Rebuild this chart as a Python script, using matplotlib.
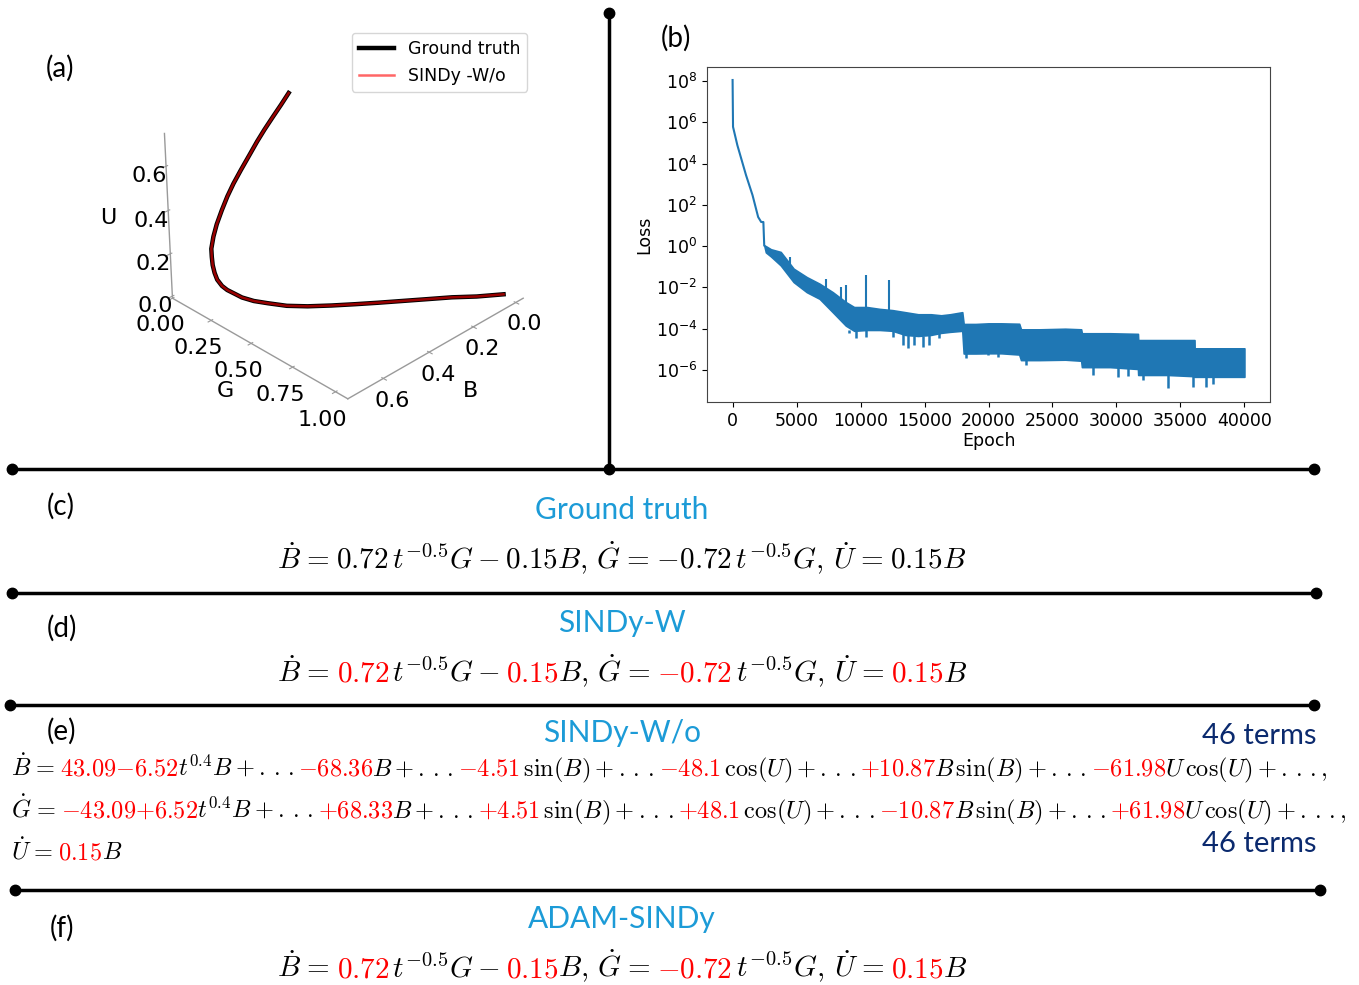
import matplotlib
matplotlib.use("Agg")
import matplotlib.pyplot as plt

plt.rcParams['mathtext.fontset'] = 'cm'

# ---------------- data ----------------
# 3D trajectory
traj_B = [0.00, 0.07, 0.13, 0.20, 0.26, 0.32, 0.38, 0.44, 0.50, 0.55, 0.59, 0.622, 0.645, 0.657, 0.671, 0.678, 0.681,
          0.678, 0.672, 0.663, 0.653, 0.631, 0.606, 0.574, 0.541, 0.508, 0.47, 0.43, 0.39, 0.355, 0.315, 0.276,
          0.24]
traj_G = [1.00, 0.93, 0.86, 0.79, 0.73, 0.67, 0.61, 0.55, 0.487, 0.43, 0.37, 0.33, 0.29, 0.265, 0.237, 0.215, 0.19,
          0.17, 0.15, 0.132, 0.115, 0.097, 0.082, 0.068, 0.056, 0.047, 0.040, 0.033, 0.027, 0.023, 0.019, 0.016,
          0.013]
traj_U = [0.000, 0.000, 0.001, 0.002, 0.003, 0.004, 0.006, 0.009, 0.013, 0.020, 0.030, 0.042, 0.055, 0.068, 0.083,
          0.097, 0.118, 0.14, 0.165, 0.191, 0.217, 0.255, 0.293, 0.336, 0.379, 0.418, 0.46, 0.502, 0.546, 0.582,
          0.62, 0.657, 0.693]

# Loss history (log10 of loss): smooth early part
loss_epoch_early = [0, 34, 373, 1050, 1558, 1998, 2235, 2405, 2472]
loss_log_early = [8.05, 5.78, 4.89, 3.44, 2.47, 1.41, 1.17, 1.17, 0.04]
# noisy band: upper and lower log10 envelope
band_epoch = [2472, 2600, 3000, 3760, 4770, 5800, 6800, 7830, 8850, 9500, 10500, 11500, 12500, 13500, 14500,
              15500, 16300, 17000, 17950, 18060, 19000, 20000, 21000, 22400, 22540, 24000, 26000, 27240, 27300,
              29500, 31680, 31700, 34000, 36100, 36110, 40000]
band_hi = [0.04, 0.0, -0.15, -0.28, -1.09, -1.5, -1.82, -2.23, -2.71, -2.95, -2.95, -3.04, -3.1, -3.2, -3.3,
           -3.3, -3.35, -3.3, -3.2, -3.77, -3.77, -3.74, -3.74, -3.76, -4.03, -4.03, -4.0, -4.03, -4.22,
           -4.22, -4.25, -4.55, -4.55, -4.55, -4.95, -4.95]
band_lo = [0.04, -0.3, -0.5, -0.93, -1.74, -2.23, -2.55, -3.2, -3.85, -4.1, -4.06, -4.06, -4.1, -4.3, -4.35,
           -4.3, -4.2, -4.15, -4.1, -5.2, -5.2, -5.19, -5.19, -5.25, -5.52, -5.52, -5.5, -5.55, -5.86,
           -5.86, -5.95, -6.24, -6.24, -6.3, -6.33, -6.33]
# isolated upward spikes
spike_epoch = [3700, 4500, 7300, 8500, 8900, 10400, 12200]
spike_base = [-0.5, -1.2, -2.4, -2.8, -3.0, -3.0, -3.1]
spike_peak = [-0.3, -0.53, -1.6, -1.98, -1.9, -1.42, -1.66]
# isolated downward spikes
dip_epoch = [9100, 9630, 10410, 12500, 13280, 13670, 14190, 14850, 15370, 16150, 18240, 19940, 20720, 22935,
             28160, 30110, 30900, 32070, 34030, 35990, 37030, 37550]
dip_base = [-4.05, -4.1, -4.06, -4.1, -4.25, -4.3, -4.33, -4.35, -4.3, -4.2, -5.2, -5.19, -5.19, -5.5,
            -5.86, -5.86, -5.9, -6.24, -6.24, -6.3, -6.33, -6.33]
dip_tip = [-4.22, -4.47, -4.39, -4.39, -4.79, -4.95, -4.79, -4.87, -4.79, -4.47, -5.44, -5.28, -5.36, -5.76,
           -6.24, -6.33, -6.3, -6.49, -6.89, -6.81, -6.81, -6.7]

loss_yticks = [-6, -4, -2, 0, 2, 4, 6, 8]
loss_xticks = [0, 5000, 10000, 15000, 20000, 25000, 30000, 35000, 40000]

RED = '#ff0000'
BLK = 'black'
TITLE_C = '#1c9bd7'
NAVY = '#0b2a6e'
LOSS_C = '#1f77b4'

# ---------------- figure ----------------
W, H = 1359, 985
fig = plt.figure(figsize=(W / 100, H / 100), dpi=100)

bg = fig.add_axes([0, 0, 1, 1])
bg.set_xlim(0, W)
bg.set_ylim(H, 0)
bg.axis('off')

seg_lines = [((609, 13), (609, 469)), ((12, 469), (1314, 469)), ((12, 593), (1316, 593)),
             ((10, 705), (1314, 705)), ((15, 890), (1320, 890))]
for (x0, y0), (x1, y1) in seg_lines:
    bg.plot([x0, x1], [y0, y1], color='black', lw=2.5, solid_capstyle='butt', zorder=2)
    bg.plot([x0, x1], [y0, y1], 'o', color='black', ms=7.5, zorder=3)

renderer = fig.canvas.get_renderer()


def ink_width(s, fs):
    t = bg.text(0, 0, s, fontsize=fs)
    w = t.get_window_extent(renderer).width
    t.remove()
    return w


def rich(x, y, parts, fs, ha='center'):
    """Draw coloured pieces of one mathtext expression; each piece is placed by
    the width of the whole expression up to and including it."""
    cum = []
    acc = ''
    for s, c in parts:
        acc += s
        cum.append(ink_width('$' + acc + '$', fs))
    x0 = x - cum[-1] / 2 if ha == 'center' else x
    for (s, c), cw in zip(parts, cum):
        bg.text(x0 + cw, y, '$' + s + '$', color=c, fontsize=fs, ha='right', va='baseline')


sans = 'Lato'
for lab, (px, py) in {'(a)': (60, 68), '(b)': (676, 38), '(c)': (61, 506), '(d)': (62, 628),
                      '(e)': (61, 731), '(f)': (62, 928)}.items():
    bg.text(px, py, lab, fontsize=20, family=sans, ha='center', va='center')

for title, ty in [('Ground truth', 519), ('SINDy-W', 632), ('SINDy-W/o', 742), ('ADAM-SINDy', 928)]:
    bg.text(622, ty, title, fontsize=21.5, family=sans, color=TITLE_C, ha='center', va='baseline')
bg.text(1316, 744, '46 terms', fontsize=21, family=sans, color=NAVY, ha='right', va='baseline')
bg.text(1316, 852, '46 terms', fontsize=21, family=sans, color=NAVY, ha='right', va='baseline')

EQ = r'\hspace{0.08}=\hspace{0.08}'
DOTS = r'.\,.\,.'
EQ_FS = 21

gt = [(r'\dot{B}' + EQ + r'0.72\,t^{-0.5}G-0.15B,\,\dot{G}' + EQ + r'{-0.72}\,t^{-0.5}G,\,\dot{U}' + EQ
       + r'0.15B', BLK)]
rich(622, 569, gt, EQ_FS)

colored = [(r'\dot{B}' + EQ, BLK), (r'0.72', RED), (r'\,t^{-0.5}G-', BLK), (r'0.15', RED),
           (r'B,\,\dot{G}' + EQ, BLK), (r'{-0.72}', RED), (r'\,t^{-0.5}G,\,\dot{U}' + EQ, BLK),
           (r'0.15', RED), (r'B', BLK)]
rich(622, 682, colored, EQ_FS)
rich(622, 977, colored, EQ_FS)

E_FS = 17.5
line1 = [(r'\dot{B}' + EQ, BLK), (r'43.09{-}6.52', RED), (r't^{0.4}B+' + DOTS, BLK), (r'{-68.36}', RED),
         (r'B+' + DOTS, BLK), (r'{-4.51}', RED), (r'\,\sin(B)+' + DOTS, BLK), (r'{-48.1}', RED),
         (r'\,\cos(U)+' + DOTS, BLK), (r'{+10.87}', RED), (r'B\,\sin(B)+' + DOTS, BLK), (r'{-61.98}', RED),
         (r'U\,\cos(U)+' + DOTS + ',', BLK)]
line2 = [(r'\dot{G}' + EQ, BLK), (r'{-43.09{+}6.52}', RED), (r't^{0.4}B+' + DOTS, BLK), (r'{+68.33}', RED),
         (r'B+' + DOTS, BLK), (r'{+4.51}', RED), (r'\,\sin(B)+' + DOTS, BLK), (r'{+48.1}', RED),
         (r'\,\cos(U)+' + DOTS, BLK), (r'{-10.87}', RED), (r'B\,\sin(B)+' + DOTS, BLK), (r'{+61.98}', RED),
         (r'U\,\cos(U)+' + DOTS + ',', BLK)]
line3 = [(r'\dot{U}' + EQ, BLK), (r'0.15', RED), (r'B', BLK)]
rich(11, 776, line1, E_FS, ha='left')
rich(11, 818, line2, E_FS, ha='left')
rich(11, 859, line3, E_FS, ha='left')

# ---------------- loss panel ----------------
axl = fig.add_axes([707 / W, 1 - 402 / H, (1270 - 707) / W, (402 - 67) / H])
axl.plot(loss_epoch_early, [10 ** v for v in loss_log_early], color=LOSS_C, lw=1.5)
axl.fill_between(band_epoch, [10 ** v for v in band_lo], [10 ** v for v in band_hi], color=LOSS_C, lw=1.2,
                 edgecolor=LOSS_C)
axl.vlines(spike_epoch, [10 ** v for v in spike_base], [10 ** v for v in spike_peak], color=LOSS_C, lw=1.5)
axl.vlines(dip_epoch, [10 ** v for v in dip_base], [10 ** v for v in dip_tip], color=LOSS_C, lw=1.8)
axl.set_yscale('log')
axl.set_ylim(10 ** -7.55, 10 ** 8.68)
axl.set_xlim(-2000, 42000)
axl.set_yticks([10.0 ** v for v in loss_yticks])
axl.minorticks_off()
axl.set_xticks(loss_xticks)
axl.tick_params(labelsize=12.5)
axl.set_xlabel('Epoch', fontsize=12.5, labelpad=2)
axl.set_ylabel('Loss', fontsize=12.5, labelpad=2)
for sp in axl.spines.values():
    sp.set_color('#444444')

# ---------------- 3D panel ----------------
ax3 = fig.add_axes([100 / W, 1 - 420 / H, 485 / W, 394 / H], projection='3d')
ax3.plot(traj_B, traj_G, traj_U, color='black', lw=3.2, label='Ground truth')
ax3.plot(traj_B, traj_G, traj_U, color='red', alpha=0.6, lw=1.8, label='SINDy -W/o')
ax3.view_init(elev=30, azim=45)
ax3.set_xlim(-0.036, 0.75)
ax3.set_ylim(0, 1.07)
ax3.set_zlim(-0.01, 0.745)
ax3.set_xticks([0.0, 0.2, 0.4, 0.6])
ax3.set_yticks([0.0, 0.25, 0.5, 0.75, 1.0])
ax3.set_zticks([0.0, 0.2, 0.4, 0.6])
ax3.set_xlabel('B', fontsize=16)
ax3.set_ylabel('G', fontsize=16)
ax3.set_zlabel('U', fontsize=16)
ax3.grid(False)
for a in (ax3.xaxis, ax3.yaxis, ax3.zaxis):
    a.set_pane_color((1, 1, 1, 0))
    a.pane.set_edgecolor((1, 1, 1, 0))
    a.line.set_color('#9a9a9a')
    a.line.set_linewidth(1.0)
ax3.tick_params(labelsize=16, colors='#9a9a9a', labelcolor='black', pad=-1)
ax3.tick_params(axis='y', pad=2)
ax3.set_facecolor((1, 1, 1, 0))

fig.legend(loc='upper left', bbox_to_anchor=(352 / W, 1 - 33 / H), borderaxespad=0, fontsize=12.5,
           frameon=True, handlelength=2.0, borderpad=0.4, labelspacing=0.5)

fig.savefig('out.png', dpi=100)
